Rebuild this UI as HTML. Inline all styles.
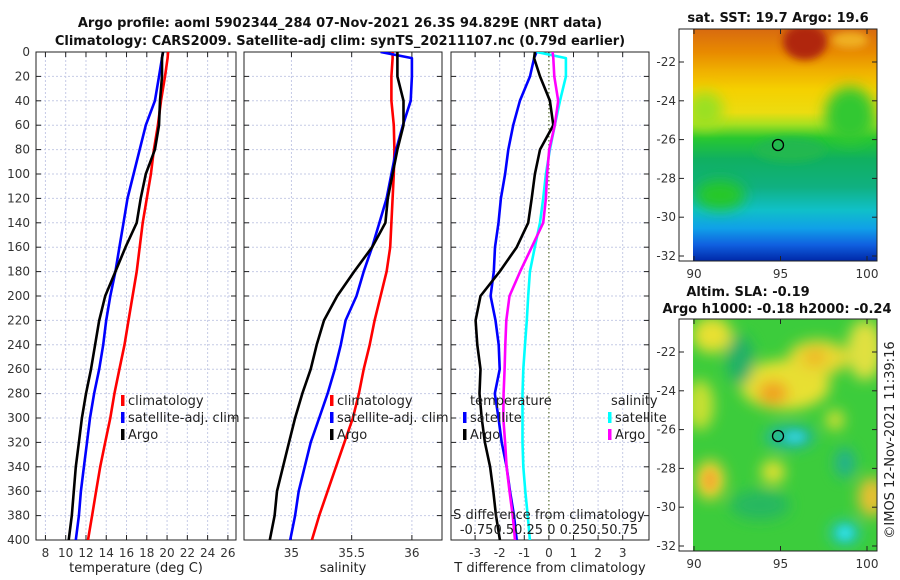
<!DOCTYPE html>
<html><head><meta charset="utf-8">
<style>
html,body{margin:0;padding:0;background:#fff;}
svg{display:block;font-family:"DejaVu Sans","Liberation Sans",sans-serif;}
.tk{font-size:12px;fill:#333;}
.lab{font-size:13px;fill:#222;}
.ttl{font-size:13px;font-weight:bold;fill:#111;}
</style></head>
<body>
<svg id="chart" width="900" height="580" viewBox="0 0 900 580">
<defs>
 <clipPath id="c1"><rect x="36" y="52" width="200" height="488"/></clipPath>
 <clipPath id="c2"><rect x="244" y="52" width="198" height="488"/></clipPath>
 <clipPath id="c3"><rect x="451" y="52" width="198" height="488"/></clipPath>
 <clipPath id="m1"><rect x="693" y="29" width="184" height="232"/></clipPath>
 <clipPath id="m2"><rect x="693" y="319" width="184" height="232"/></clipPath>
 <filter id="bl" x="-50%" y="-50%" width="200%" height="200%"><feGaussianBlur stdDeviation="7"/></filter>
 <filter id="bl2" x="-50%" y="-50%" width="200%" height="200%"><feGaussianBlur stdDeviation="4"/></filter>
 <linearGradient id="sst" x1="0" y1="0" x2="0" y2="1">
  <stop offset="0" stop-color="#d86a10"/><stop offset="0.1" stop-color="#e88a00"/>
  <stop offset="0.18" stop-color="#f0b000"/><stop offset="0.26" stop-color="#f5d000"/>
  <stop offset="0.36" stop-color="#ecdc10"/><stop offset="0.41" stop-color="#a8e020"/>
  <stop offset="0.47" stop-color="#28c830"/><stop offset="0.56" stop-color="#10b060"/>
  <stop offset="0.68" stop-color="#10b080"/><stop offset="0.78" stop-color="#10c0c8"/>
  <stop offset="0.86" stop-color="#10a0e8"/><stop offset="0.93" stop-color="#1060e0"/>
  <stop offset="1" stop-color="#0028a8"/>
 </linearGradient>
</defs>

<text class="ttl" x="340" y="27" text-anchor="middle">Argo profile: aoml 5902344_284 07-Nov-2021 26.3S 94.829E (NRT data)</text>
<text class="ttl" x="340" y="45" text-anchor="middle">Climatology: CARS2009. Satellite-adj clim: synTS_20211107.nc (0.79d earlier)</text>

<g id="panels"></g>

<!-- top map -->
<g>
 <text class="ttl" x="778" y="22" text-anchor="middle">sat. SST: 19.7 Argo: 19.6</text>
 <g clip-path="url(#m1)">
  <rect x="693" y="29" width="184" height="232" fill="url(#sst)"/>
  <ellipse cx="805" cy="42" rx="22" ry="18" fill="#b02808" filter="url(#bl2)"/>
  <ellipse cx="850" cy="40" rx="18" ry="8" fill="#f0b020" filter="url(#bl2)"/>
  <ellipse cx="850" cy="115" rx="25" ry="28" fill="#30c830" filter="url(#bl)"/>
  <ellipse cx="705" cy="110" rx="18" ry="18" fill="#9ae020" filter="url(#bl)"/>
  <ellipse cx="720" cy="195" rx="25" ry="15" fill="#28c828" filter="url(#bl)"/>
  <ellipse cx="790" cy="150" rx="35" ry="12" fill="#20b850" filter="url(#bl2)"/>
 </g>
 <rect x="679" y="29" width="198" height="232" fill="none" stroke="#222" stroke-width="1"/>
 <circle cx="778" cy="145" r="5.5" fill="none" stroke="#000" stroke-width="1.3"/>
 <g id="map1ticks"></g>
</g>

<!-- bottom map -->
<g>
 <text class="ttl" x="748" y="296" text-anchor="middle">Altim. SLA: -0.19</text>
 <text class="ttl" x="777" y="313" text-anchor="middle">Argo h1000: -0.18 h2000: -0.24</text>
 <g clip-path="url(#m2)">
  <rect x="693" y="319" width="184" height="232" fill="#3ccc3c"/>
  <g filter="url(#bl)">
   <ellipse cx="712" cy="335" rx="20" ry="18" fill="#e8e030"/>
   <ellipse cx="785" cy="385" rx="45" ry="25" fill="#e8e030"/>
   <ellipse cx="818" cy="358" rx="30" ry="18" fill="#e8d830"/>
   <ellipse cx="865" cy="350" rx="18" ry="30" fill="#e0e040"/>
   <ellipse cx="700" cy="405" rx="14" ry="25" fill="#c8e030"/>
   <ellipse cx="740" cy="360" rx="14" ry="25" fill="#22b068"/>
   <ellipse cx="773" cy="393" rx="15" ry="12" fill="#f0a020"/>
   <ellipse cx="815" cy="357" rx="10" ry="8" fill="#f0b020"/>
   <ellipse cx="790" cy="437" rx="25" ry="12" fill="#20b8a0"/>
   <ellipse cx="773" cy="472" rx="12" ry="12" fill="#e0e030"/>
   <ellipse cx="835" cy="420" rx="9" ry="10" fill="#d8e030"/>
   <ellipse cx="710" cy="480" rx="15" ry="20" fill="#e8d030"/>
   <ellipse cx="845" cy="463" rx="10" ry="15" fill="#20b090"/>
   <ellipse cx="872" cy="497" rx="14" ry="20" fill="#e8c030"/>
   <ellipse cx="845" cy="533" rx="15" ry="12" fill="#20c8c0"/>
   <ellipse cx="760" cy="505" rx="30" ry="15" fill="#28b860"/>
  </g>
  <ellipse cx="845" cy="533" rx="7" ry="6" fill="#30e0e0" filter="url(#bl2)"/>
  <ellipse cx="795" cy="437" rx="10" ry="6" fill="#30d0d0" filter="url(#bl2)"/>
  <ellipse cx="710" cy="480" rx="7" ry="10" fill="#f0b030" filter="url(#bl2)"/>
 </g>
 <rect x="679" y="319" width="198" height="232" fill="none" stroke="#222" stroke-width="1"/>
 <circle cx="778" cy="436" r="5.5" fill="none" stroke="#000" stroke-width="1.3"/>
 <g id="map2ticks"></g>
</g>
<text class="lab" transform="translate(894,440) rotate(-90)" text-anchor="middle">©IMOS 12-Nov-2021 11:39:16</text>

<script>
// ---------- data ----------
const depths = [0,5,20,40,60,80,100,120,140,160,180,200,220,240,260,280,300,320,340,360,380,400];
const depthTicks = [0,20,40,60,80,100,120,140,160,180,200,220,240,260,280,300,320,340,360,380,400];
const tempTicks = [8,10,12,14,16,18,20,22,24,26];
const salTicks = [35,35.5,36];
const diffTicks = [-3,-2,-1,0,1,2,3];
const tempClim = [20.1,20.05,19.8,19.4,19.1,18.7,18.4,18.0,17.6,17.3,17.0,16.6,16.2,15.8,15.3,14.8,14.4,13.9,13.4,13.0,12.6,12.2];
const tempSat  = [19.6,19.5,19.2,18.8,17.9,17.3,16.7,16.1,15.7,15.3,14.9,14.4,14.0,13.7,13.3,12.8,12.4,12.1,11.8,11.5,11.3,11.0];
const tempArgo = [19.6,19.5,19.5,19.3,19.2,18.8,17.9,17.4,17.0,15.9,14.9,13.9,13.3,12.9,12.5,12.0,11.6,11.3,11.0,10.8,10.6,10.3];
const salClim = [35.84,35.84,35.83,35.83,35.85,35.855,35.85,35.84,35.83,35.82,35.79,35.74,35.69,35.65,35.60,35.56,35.51,35.44,35.37,35.30,35.23,35.17];
const salSat  = [35.74,36.0,36.0,35.99,35.925,35.87,35.83,35.79,35.73,35.67,35.60,35.54,35.45,35.41,35.36,35.30,35.23,35.16,35.11,35.06,35.03,34.99];
const salArgo = [35.88,35.88,35.88,35.93,35.93,35.88,35.84,35.80,35.78,35.67,35.52,35.38,35.27,35.21,35.16,35.09,35.03,34.98,34.93,34.88,34.86,34.82];
const tDiffSat  = [-0.5,-0.6,-0.77,-1.18,-1.45,-1.65,-1.78,-1.95,-2.05,-2.19,-2.24,-2.37,-2.17,-2.04,-2.0,-2.2,-2.05,-1.92,-1.72,-1.58,-1.42,-1.31];
const tDiffArgo = [-0.57,-0.6,-0.36,0.04,0.18,-0.36,-0.57,-0.7,-0.84,-1.31,-2.0,-2.78,-2.98,-2.91,-2.78,-2.82,-2.73,-2.6,-2.39,-2.26,-2.15,-1.99];
const sDiffSat  = [-0.125,0.173,0.173,0.113,0.06,0.01,-0.03,-0.058,-0.09,-0.143,-0.193,-0.21,-0.225,-0.243,-0.26,-0.268,-0.268,-0.268,-0.26,-0.24,-0.215,-0.193];
const sDiffArgo = [0.038,0.045,0.055,0.095,0.06,0.003,-0.018,-0.03,-0.058,-0.175,-0.293,-0.4,-0.433,-0.443,-0.45,-0.46,-0.463,-0.445,-0.43,-0.4,-0.368,-0.345];
const mapLonTicks = [90,95,100];
const mapLatTicks = [-22,-24,-26,-28,-30,-32];

// ---------- helpers ----------
const NS = 'http://www.w3.org/2000/svg';
const root = document.getElementById('panels');
function mk(tag, attrs, parent){
  const e = document.createElementNS(NS, tag);
  for (const k in attrs) e.setAttribute(k, attrs[k]);
  (parent||root).appendChild(e);
  return e;
}
const Y0 = 52, Y1 = 540;
const yScale = d => Y0 + d/400*(Y1-Y0);
function xScaleFn(x0, x1, d0, d1){ return v => x0 + (v-d0)/(d1-d0)*(x1-x0); }

const panels = [
 {name:'temperature-panel', x0:36, x1:236, d0:7.07, d1:26.8, ticks:tempTicks, label:'temperature (deg C)', fmt:v=>String(v)},
 {name:'salinity-panel', x0:244, x1:442, d0:34.606, d1:36.25, ticks:salTicks, label:'salinity', fmt:v=>String(v)},
 {name:'difference-panel', x0:451, x1:649, d0:-3.98, d1:4.07, ticks:diffTicks, label:'T difference from climatology', fmt:v=>String(v)}
];

panels.forEach((p, pi) => {
  const g = mk('g', {});
  
  
  p.sx = xScaleFn(p.x0, p.x1, p.d0, p.d1);
  p.g = g;
  depthTicks.forEach(d => {
    const l = mk('line', {x1:p.x0, x2:p.x1, y1:yScale(d), y2:yScale(d), stroke:'#c6cbe6', 'stroke-width':1, 'stroke-dasharray':'2,2'}, g);
    
    
  });
  const gridX = pi===0 ? tempTicks : (pi===1 ? [35,35.5,36] : [-3,-2,-1,1,2,3]);
  gridX.forEach(v => {
    const l = mk('line', {x1:p.sx(v), x2:p.sx(v), y1:Y0, y2:Y1, stroke:'#c6cbe6', 'stroke-width':1, 'stroke-dasharray':'2,2'}, g);
    
    
  });
  if (pi===2) {
    const z = mk('line', {x1:p.sx(0), x2:p.sx(0), y1:Y0, y2:Y1, stroke:'#556b2f', 'stroke-width':1.2, 'stroke-dasharray':'1.5,2.5'}, g);
    
    
  }
  const fr = mk('rect', {x:p.x0, y:Y0, width:p.x1-p.x0, height:Y1-Y0, fill:'none', stroke:'#222', 'stroke-width':1}, g);
  
  
  depthTicks.forEach(d => {
    mk('line', {x1:p.x0, x2:p.x0+5, y1:yScale(d), y2:yScale(d), stroke:'#222'}, g);
    mk('line', {x1:p.x1-5, x2:p.x1, y1:yScale(d), y2:yScale(d), stroke:'#222'}, g);
  });
  p.ticks.forEach(v => {
    const x = p.sx(v);
    mk('line', {x1:x, x2:x, y1:Y1, y2:Y1-5, stroke:'#222'}, g);
    mk('line', {x1:x, x2:x, y1:Y0, y2:Y0+5, stroke:'#222'}, g);
    const t = mk('text', {x:x, y:Y1+17, 'text-anchor':'middle', class:'tk'}, g);
    t.textContent = p.fmt(v);
    
    
  });
  const xl = mk('text', {x:(p.x0+p.x1)/2, y:572, 'text-anchor':'middle', class:'lab'}, g);
  xl.textContent = p.label;
  
  
});

depthTicks.forEach(d => {
  const t = mk('text', {x:30, y:yScale(d)+4, 'text-anchor':'end', class:'tk'});
  t.textContent = d;
  
  
});

function drawLine(p, vals, color, name, scale){
  const sx = scale || p.sx;
  const pts = vals.map((v,i) => sx(v).toFixed(1)+','+yScale(depths[i]).toFixed(1)).join(' ');
  const pl = mk('polyline', {points:pts, fill:'none', stroke:color, 'stroke-width':2.6, 'stroke-linejoin':'round', 'clip-path':'url(#c'+(panels.indexOf(p)+1)+')'}, p.g);
  
  
}
const P1 = panels[0], P2 = panels[1], P3 = panels[2];
drawLine(P1, tempClim, '#ff0000', 'temp-climatology-line');
drawLine(P1, tempSat, '#0000ff', 'temp-satellite-line');
drawLine(P1, tempArgo, '#000000', 'temp-argo-line');
drawLine(P2, salClim, '#ff0000', 'sal-climatology-line');
drawLine(P2, salSat, '#0000ff', 'sal-satellite-line');
drawLine(P2, salArgo, '#000000', 'sal-argo-line');
const sScale = v => P3.sx(v*4);
drawLine(P3, tDiffSat, '#0000ff', 'tdiff-satellite-line');
drawLine(P3, tDiffArgo, '#000000', 'tdiff-argo-line');
drawLine(P3, sDiffSat, '#00ffff', 'sdiff-satellite-line', sScale);
drawLine(P3, sDiffArgo, '#ff00ff', 'sdiff-argo-line', sScale);

function legendEntry(g, x, y, color, text){
  mk('rect', {x:x-2, y:y-10, width:3.5, height:11, fill:color}, g);
  const t = mk('text', {x:x+5, y:y, class:'lab'}, g);
  t.textContent = text;
  
  
}
[[P1,123],[P2,332]].forEach(([p,x]) => {
  const g = mk('g', {}, p.g);
  
  
  legendEntry(g, x, 405, '#ff0000', 'climatology');
  legendEntry(g, x, 422, '#0000ff', 'satellite-adj. clim');
  legendEntry(g, x, 439, '#000000', 'Argo');
});
{
  const g = mk('g', {}, P3.g);
  
  
  const h1 = mk('text', {x:470, y:405, class:'lab'}, g); h1.textContent = 'temperature';
  const h2 = mk('text', {x:611, y:405, class:'lab'}, g); h2.textContent = 'salinity';
  legendEntry(g, 465, 422, '#0000ff', 'satellite');
  legendEntry(g, 465, 439, '#000000', 'Argo');
  legendEntry(g, 610, 422, '#00ffff', 'satellite');
  legendEntry(g, 610, 439, '#ff00ff', 'Argo');
  const s1 = mk('text', {x:549, y:519, 'text-anchor':'middle', class:'lab'}, g);
  s1.textContent = 'S difference from climatology';
  
  
  const s2 = mk('text', {x:549, y:534, 'text-anchor':'middle', class:'lab'}, g);
  s2.textContent = '-0.750.50.25 0 0.250.50.75';
  
  
}

function mapTicks(id, top, latAt22, latStep){
  const g = document.getElementById(id);
  mapLonTicks.forEach(lon => {
    const x = 694 + (lon-90)*17.3;
    mk('line', {x1:x, x2:x, y1:top+232, y2:top+227, stroke:'#222'}, g);
    mk('line', {x1:x, x2:x, y1:top, y2:top+5, stroke:'#222'}, g);
    const t = mk('text', {x:x, y:top+232+17, 'text-anchor':'middle', class:'tk'}, g);
    t.textContent = lon;
    
    
  });
  mapLatTicks.forEach(lat => {
    const y = latAt22 + (-22-lat)*latStep;
    mk('line', {x1:679, x2:684, y1:y, y2:y, stroke:'#222'}, g);
    mk('line', {x1:872, x2:877, y1:y, y2:y, stroke:'#222'}, g);
    const t = mk('text', {x:676, y:y+4, 'text-anchor':'end', class:'tk'}, g);
    t.textContent = lat;
    
    
  });
}
mapTicks('map1ticks', 29, 62, 19.4);
mapTicks('map2ticks', 319, 352, 19.4);
</script>
</svg>
</body></html>
